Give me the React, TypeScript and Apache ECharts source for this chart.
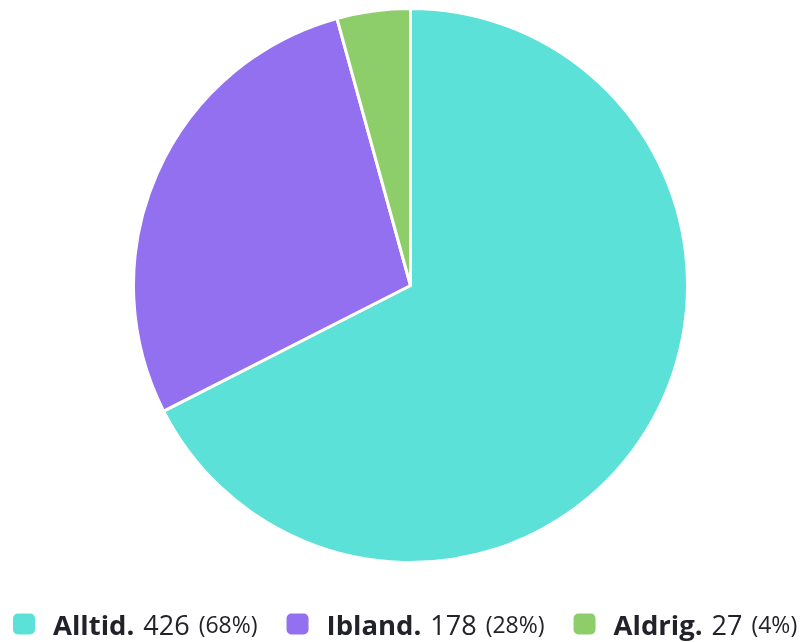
import React, { useEffect, useRef } from "react";
import * as echarts from "echarts";

const categories = ["Alltid.", "Ibland.", "Aldrig."];
const values = [426, 178, 27];
const colors = ["#5CE1D9", "#9370F0", "#8DCE6B"];

export default function App() {
  const ref = useRef<HTMLDivElement>(null);
  useEffect(() => {
    if (!ref.current) return;
    const chart = echarts.init(ref.current, null, { renderer: "svg" });
    const total = values.reduce((a, b) => a + b, 0);
    const data = categories.map((name, i) => ({
      name,
      value: values[i],
      itemStyle: { color: colors[i] },
    }));
    chart.setOption({
      animation: false,
      legend: {
        top: 610,
        left: 11,
        width: 1400,
        padding: 0,
        icon: "roundRect",
        itemWidth: 24,
        itemHeight: 23,
        itemGap: 27,
        data: categories,
        formatter: (name: string) => {
          const i = categories.indexOf(name);
          const pct = Math.round((values[i] / total) * 100);
          return `{b|${name}}{v|${values[i]}}{p|(${pct}%)}`;
        },
        textStyle: {
          padding: [0, 0, 0, 12],
          rich: {
            b: {
              fontFamily: "Open Sans",
              fontWeight: "bold",
              fontSize: 27.5,
              lineHeight: 31,
              color: "#22222a",
            },
            v: {
              fontFamily: "Open Sans",
              fontSize: 27,
              lineHeight: 31,
              padding: [0, 0, 0, 9],
              color: "#22222a",
            },
            p: {
              fontFamily: "Open Sans",
              fontSize: 23,
              lineHeight: 31,
              padding: [0, 0, 0, 9],
              color: "#22222a",
            },
          },
        },
      },
      series: [
        {
          type: "pie",
          center: [410.5, 285.5],
          radius: 277,
          startAngle: 90,
          clockwise: true,
          label: { show: false },
          labelLine: { show: false },
          emphasis: { disabled: true },
          itemStyle: { borderColor: "#ffffff", borderWidth: 3 },
          data,
        },
      ],
    });
    return () => chart.dispose();
  }, []);
  return (
    <div
      ref={ref}
      style={{ position: "fixed", left: 0, top: 0, width: 803, height: 642 }}
    />
  );
}
